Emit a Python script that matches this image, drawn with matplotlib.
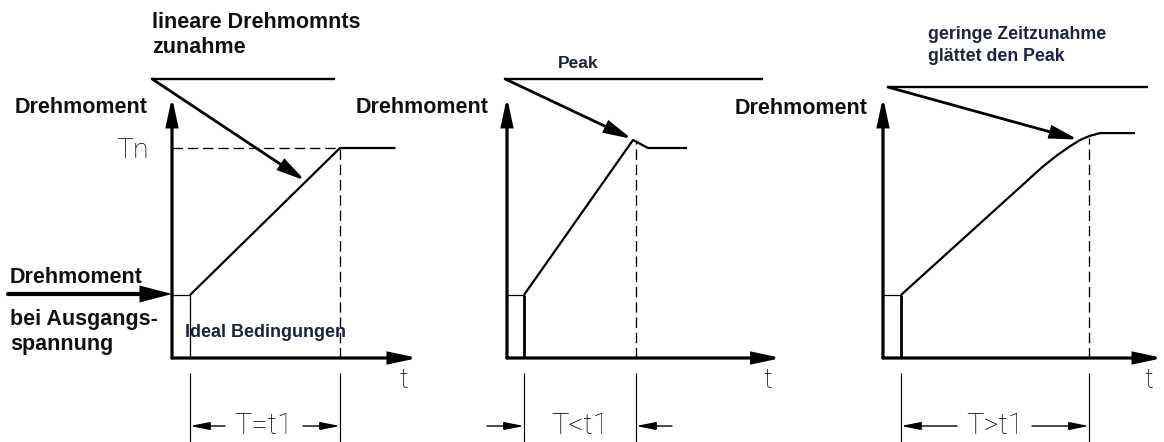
import matplotlib
matplotlib.use("Agg")
import matplotlib.pyplot as plt
from matplotlib.patches import ArrowStyle
from matplotlib.transforms import blended_transform_factory as blend

plt.rcParams["lines.scale_dashes"] = False
plt.rcParams["lines.solid_capstyle"] = "butt"

# ---------------- data (time in units of t1, torque in units of Tn) ----------------
dim_labels = ["T=t1", "T<t1", "T>t1"]
start_torque = 0.30

p1_time = [0.12, 1.12, 1.49]
p1_torque = [0.30, 1.00, 1.00]

p2_time = [0.113, 0.84, 0.94, 1.20]
p2_torque = [0.30, 1.038, 1.00, 1.00]

p3_time = [0.12, 1.06, 1.16, 1.24, 1.313, 1.38, 1.447, 1.68]
p3_torque = [0.30, 0.908, 0.965, 1.005, 1.038, 1.058, 1.071, 1.071]

box_end = [0.12, 0.113, 0.12]          # end of the starting step
dash_time = [1.12, 0.86, 1.373]        # end of ramp time T
dash_top = [1.00, 1.038, 1.048]
axis_tmax = [1.64, 1.83, 1.867]
axis_Tmax = 1.243

# ---------------- layout ----------------
W, H, DPI = 1164, 442, 100
PX_T, PX_Q = 150.0, 210.0
origins = [(172, 358), (507, 358), (883, 358)]
XL, XR, YB, YT = -1.2, 2.2, -0.6, 1.9

fig = plt.figure(figsize=(W / DPI, H / DPI), dpi=DPI)
ov = fig.add_axes([0, 0, 1, 1])
ov.set_xlim(0, W)
ov.set_ylim(H, 0)
ov.axis("off")

def make_panel(ox, oy):
    left = (ox + XL * PX_T) / W
    width = (XR - XL) * PX_T / W
    bottom = (H - oy + YB * PX_Q) / H
    height = (YT - YB) * PX_Q / H
    ax = fig.add_axes([left, bottom, width, height])
    ax.set_xlim(XL, XR)
    ax.set_ylim(YB, YT)
    ax.axis("off")
    ax.patch.set_visible(False)
    return ax

def arrow(ax, start, end, lw, hl, hw, trans=None):
    trans = trans if trans is not None else ax.transData
    ax.annotate("", xy=end, xytext=start, xycoords=trans, textcoords=trans,
                annotation_clip=False,
                arrowprops=dict(arrowstyle=ArrowStyle("-|>", head_length=hl, head_width=hw),
                                lw=lw, color="black", shrinkA=0, shrinkB=0,
                                mutation_scale=1, joinstyle="miter"))

curves = [(p1_time, p1_torque), (p2_time, p2_torque), (p3_time, p3_torque)]
panels = [make_panel(ox, oy) for ox, oy in origins]

# annotation geometry (in panel data coordinates)
top_line = [(-0.133, 1.087, 1.329), (-0.013, 1.707, 1.329), (0.033, 1.767, 1.290)]
diag_tip = [(0.887, 0.845), (0.833, 1.043), (1.300, 1.040)]
dim_y = 426
dim_tails = [(225, 303), (487, 672), (957, 1032)]
thin_font = dict(family=["Roboto", "DejaVu Sans"], weight="light", color="black")
dash_style = (0, (7.5, 3.5))

for i, ax in enumerate(panels):
    t, q = curves[i]
    # axes with arrows
    arrow(ax, (0, 0), (0, axis_Tmax), 2.3, 16, 3.4)
    arrow(ax, (0, 0), (axis_tmax[i], 0), 2.3, 16, 3.4)
    # starting step
    ax.plot([0, box_end[i]], [start_torque, start_torque], color="black", lw=0.9, clip_on=False)
    ax.plot([box_end[i], box_end[i]], [0, start_torque], color="black",
            lw=0.9 if i == 0 else 2.0, clip_on=False)
    # torque curve
    ax.plot(t, q, color="black", lw=1.6, clip_on=False, solid_joinstyle="round")
    # dashed guides
    ax.plot([dash_time[i], dash_time[i]], [0, dash_top[i]], color="black", lw=0.95,
            ls=dash_style, clip_on=False)
    if i == 0:
        ax.plot([0, dash_time[i]], [1.0, 1.0], color="black", lw=0.95, ls=dash_style,
                clip_on=False)
    # top reference line and diagonal arrow
    x0, x1, yl = top_line[i]
    ax.plot([x0, x1], [yl, yl], color="black", lw=1.7, clip_on=False)
    arrow(ax, (x0, yl), diag_tip[i], 2.0, 16, 3.8)
    # dimension lines
    bt = blend(ax.transData, ov.transData)
    for xv in (box_end[i], dash_time[i]):
        ax.plot([xv, xv], [373, 442], color="black", lw=0.85, transform=bt, clip_on=False)
    lt, rt = dim_tails[i]
    xl_px = origins[i][0] + box_end[i] * PX_T
    xr_px = origins[i][0] + dash_time[i] * PX_T
    arrow(ov, (lt, dim_y), (xl_px, dim_y), 1.0, 12, 2.4)
    arrow(ov, (rt, dim_y), (xr_px, dim_y), 1.0, 12, 2.4)
    ov.text((xl_px + xr_px) / 2 + (-1 if i == 0 else 0), 434, dim_labels[i], ha="center",
            va="baseline", fontsize=21, **thin_font)
    # t label
    ov.text(origins[i][0] + axis_tmax[i] * PX_T - 14, 388, "t", ha="center", va="baseline",
            fontsize=20, **thin_font)

# incoming arrow for initial torque
arrow(ov, (8, 294), (origins[0][0], 294), 3.0, 16, 4.2)

# Tn label
ov.text(116, 158, "Tn", ha="left", va="baseline", fontsize=20.5, **thin_font)

bold = dict(family=["Liberation Sans", "DejaVu Sans"], weight="bold", color="#111111")
navy = dict(family=["Liberation Sans", "DejaVu Sans"], weight="bold", color="#1d2142")

fs = 15.5
ov.text(152, 28, "lineare Drehmomnts", ha="left", va="baseline", fontsize=fs, **bold)
ov.text(152, 53, "zunahme", ha="left", va="baseline", fontsize=fs, **bold)
ov.text(15, 113, "Drehmoment", ha="left", va="baseline", fontsize=fs, **bold)
ov.text(356, 113, "Drehmoment", ha="left", va="baseline", fontsize=fs, **bold)
ov.text(735, 114, "Drehmoment", ha="left", va="baseline", fontsize=fs, **bold)
ov.text(10, 283, "Drehmoment", ha="left", va="baseline", fontsize=fs, **bold)
ov.text(10, 325, "bei Ausgangs-", ha="left", va="baseline", fontsize=fs, **bold)
ov.text(10, 350, "spannung", ha="left", va="baseline", fontsize=fs, **bold)

ov.text(558, 68, "Peak", ha="left", va="baseline", fontsize=12.5, **navy)
ov.text(928, 39, "geringe Zeitzunahme", ha="left", va="baseline", fontsize=12.8, **navy)
ov.text(928, 61, "glättet den Peak", ha="left", va="baseline", fontsize=12.8, **navy)
ov.text(185, 337, "Ideal Bedingungen", ha="left", va="baseline", fontsize=13, **navy)

fig.savefig("out.png", dpi=DPI, facecolor="white")
